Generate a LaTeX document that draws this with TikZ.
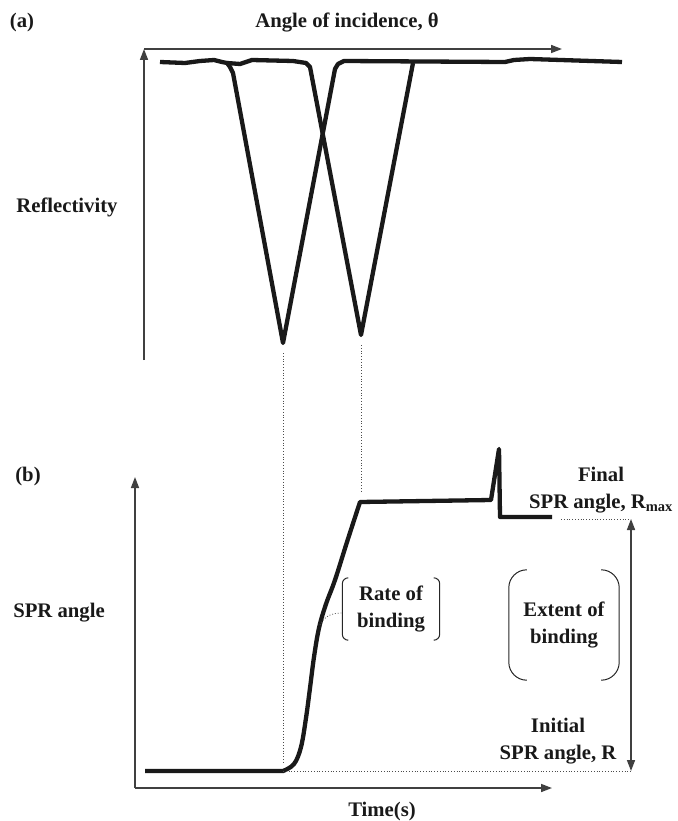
\documentclass[tikz,border=0pt]{standalone}
\usepackage{fontspec}
\setmainfont{Liberation Serif}
\usetikzlibrary{arrows.meta}
\begin{document}
\begin{tikzpicture}[x=1pt,y=-1pt,
  axis/.style={line width=1.6pt,draw=black!75,-{Triangle[length=11pt,width=8pt]}},
  dbl/.style={axis,{Triangle[length=11pt,width=8pt]}-{Triangle[length=11pt,width=8pt]}},
  trace/.style={line width=4.3pt,black!90,line join=round},
  guide/.style={dotted,line width=0.8pt,black!70},
  brk/.style={line width=1pt,black!85,rounded corners=#1},
  brk/.default=6pt,
  lbl/.style={font=\fontsize{20.7}{27}\selectfont\bfseries,text=black!90,align=center,inner sep=0pt}]
\useasboundingbox (0,0) rectangle (677,821);
% (a) reflectivity against angle
\coordinate (oA) at (144,49);
\coordinate (xA) at (562,49);
\coordinate (yA) at (144,360);
\draw[axis] (oA) -- (xA);
\draw[axis] (yA) -- (oA);
\node[lbl] (tagA) at (22,23) {(a)};
\node[lbl] (theta) at (347,22) {Angle of incidence, θ};
\node[lbl] (refl) at (67,207) {Reflectivity};
\draw[trace] plot coordinates {
(160,62) (185,63) (200,61) (214,60) (222,62) (227,63)
(230,67) (233,73) (283,343) (335,69) (338,64) (344,61)
(505,62) (514,60) (530,59) (622,62)
};
\draw[trace] plot coordinates {
(227,63) (240,64) (252,60) (293,61) (306,63) (310,67)
(361,335) (413,63)
};
\coordinate (dip1) at (283,353);
\coordinate (dip2) at (361,345);
\coordinate (foot1) at (283,762);
\coordinate (foot2) at (361,492);
\draw[guide] (dip1) -- (foot1);
\draw[guide] (dip2) -- (foot2);
% (b) sensorgram
\coordinate (oB) at (135,788);
\coordinate (xB) at (552,788);
\coordinate (yB) at (135,477);
\draw[axis] (oB) -- (xB);
\draw[axis] (oB) -- (yB);
\node[lbl] (tagB) at (28,477) {(b)};
\node[lbl] (spr) at (59,613) {SPR angle};
\node[lbl] (time) at (382,812) {Time(s)};
\draw[trace] (145,771) -- (283,771) -- plot[smooth,tension=0.6] coordinates {
(283,771) (294,764) (301,747) (306,718) (310,688) (314,657)
(319,628) (326,604) (335,580) (347,542) (360,502)
} -- (491,500) -- (499,449) -- (500,517) -- (552,517);
\node[lbl,minimum width=97pt,minimum height=62pt] (rate) at (391,609) {Rate of\\binding};
\draw[brk] ([xshift=6pt]rate.north west) -- (rate.north west) -- (rate.south west) -- ([xshift=6pt]rate.south west);
\draw[brk] ([xshift=-6pt]rate.north east) -- (rate.north east) -- (rate.south east) -- ([xshift=-6pt]rate.south east);
\coordinate (onrise) at (320,625);
\draw[guide] (onrise) .. controls (324,616) and (332,613) .. ([yshift=-4pt]rate.west);
\node[lbl,minimum width=110pt,minimum height=110pt] (extent) at (564,625) {Extent of\\binding};
\draw[brk=18pt] ([xshift=18pt]extent.north west) -- (extent.north west) -- (extent.south west) -- ([xshift=18pt]extent.south west);
\draw[brk=18pt] ([xshift=-18pt]extent.north east) -- (extent.north east) -- (extent.south east) -- ([xshift=-18pt]extent.south east);
\node[lbl] (final) at (601,490) {Final\\SPR angle, R\textsubscript{max}};
\node[lbl] (initial) at (558,741) {Initial\\SPR angle, R};
\coordinate (rmaxL) at (561,519);
\coordinate (rmaxR) at (631,519);
\coordinate (r0L) at (283,771);
\coordinate (r0R) at (631,771);
\draw[guide] (rmaxL) -- (rmaxR);
\draw[guide] (r0L) -- (r0R);
\draw[dbl] (rmaxR) -- (r0R);
\end{tikzpicture}
\end{document}
